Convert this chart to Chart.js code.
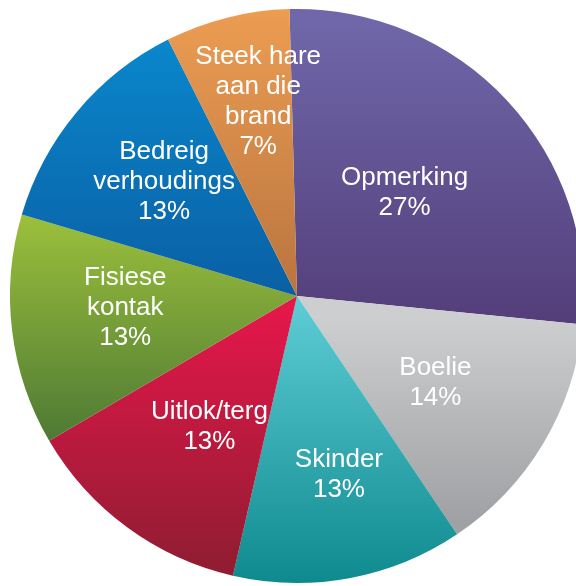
<!DOCTYPE html>
<html>
<head>
<meta charset="utf-8">
<script src="https://cdn.jsdelivr.net/npm/chart.js@4"></script>
<style>
  html, body { margin: 0; padding: 0; background: #fff; }
  #wrap { width: 576px; height: 586px; overflow: hidden; position: relative; }
  #myChart { position: absolute; left: 0; top: 0; }
</style>
</head>
<body>
<div id="wrap"><canvas id="myChart" width="600" height="600"></canvas></div>
<script>
// kategorieë en persentasies
var kategorieë = ["Opmerking", "Boelie", "Skinder", "Uitlok/terg", "Fisiese kontak", "Bedreig verhoudings", "Steek hare aan die brand"];
var persentasies = [27, 14, 13, 13, 13, 13, 7];
// hoe die etikette oor reëls gebreek word
var etiketReëls = [
  ["Opmerking"],
  ["Boelie"],
  ["Skinder"],
  ["Uitlok/terg"],
  ["Fisiese", "kontak"],
  ["Bedreig", "verhoudings"],
  ["Steek hare", "aan die", "brand"]
];

// kleurverloop per sny: [posisie, kleur] van bo na onder
var verloop = [
  [[0.02, "#6f67a9"], [0.56, "#533d79"]],
  [[0.54, "#cdcecf"], [0.89, "#9fa1a4"]],
  [[0.52, "#5ccbd3"], [1.0, "#0e8a8e"]],
  [[0.52, "#e5174b"], [0.96, "#931c33"]],
  [[0.33, "#a2c53c"], [0.75, "#4e7a34"]],
  [[0.05, "#0a87cc"], [0.51, "#0a5ea3"]],
  [[0.0, "#ec9d52"], [0.51, "#b8733f"]]
];
// etiketplek: afstand (breuk van radius) en hoekverskuiwing (grade)
var etiketAfstand = [0.52, 0.57, 0.64, 0.55, 0.6, 0.61, 0.69];
var etiketHoek = [-1, 1.3, -2.7, -2.6, 2.9, 0.7, 2.8];

function kleur(context) {
  var chart = context.chart;
  var area = chart.chartArea;
  var v = verloop[context.dataIndex];
  if (!area) return v[0][1];
  var g = chart.ctx.createLinearGradient(0, area.top, 0, area.bottom);
  g.addColorStop(v[0][0], v[0][1]);
  g.addColorStop(v[1][0], v[1][1]);
  return g;
}

// skryf die etikette binne-in die snye
var etiketPlugin = {
  id: "etikette",
  afterDatasetsDraw: function (chart) {
    var ctx = chart.ctx;
    var meta = chart.getDatasetMeta(0);
    ctx.save();
    ctx.fillStyle = "#ffffff";
    ctx.font = "26px 'Liberation Sans', Arial, sans-serif";
    ctx.textAlign = "center";
    ctx.textBaseline = "middle";
    var lyn = 30;
    meta.data.forEach(function (arc, i) {
      var mid = (arc.startAngle + arc.endAngle) / 2 + etiketHoek[i] * Math.PI / 180;
      var r = arc.outerRadius * etiketAfstand[i];
      var x = arc.x + Math.cos(mid) * r;
      var y = arc.y + Math.sin(mid) * r;
      var reëls = etiketReëls[i].concat([persentasies[i] + "%"]);
      var y0 = y - (reëls.length - 1) * lyn / 2;
      reëls.forEach(function (t, j) {
        ctx.fillText(t, x, y0 + j * lyn);
      });
    });
    ctx.restore();
  }
};

var myChart = new Chart(document.getElementById("myChart"), {
  type: "pie",
  data: {
    labels: kategorieë,
    datasets: [
      {
        data: persentasies,
        backgroundColor: kleur,
        borderWidth: 0,
      },
    ],
  },
  options: {
    responsive: false,
    animation: false,
    rotation: -1.5,
    layout: { padding: { left: 10, top: 9, right: 16, bottom: 17 } },
    plugins: {
      legend: { display: false },
      tooltip: { enabled: false },
    },
  },
  plugins: [etiketPlugin],
});
</script>
</body>
</html>
